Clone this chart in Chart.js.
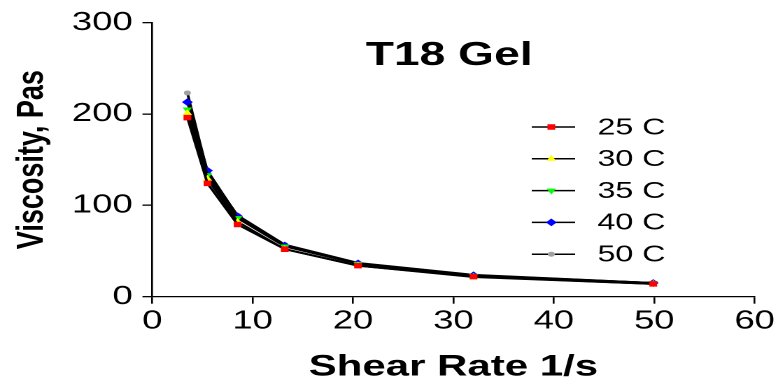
<!DOCTYPE html>
<html>
<head>
<meta charset="utf-8">
<script src="https://cdn.jsdelivr.net/npm/chart.js@4/dist/chart.umd.min.js"></script>
<style>
  html, body { margin: 0; padding: 0; background: #fff; }
</style>
</head>
<body>
<!-- drawn on a narrower canvas and widened by CSS, like the original figure -->
<canvas id="viscosity-chart" width="556" height="385" style="display:block;width:778px;height:385px"></canvas>
<script>
const shearRate = [3.5, 5.5, 8.5, 13.2, 20.5, 32.0, 49.9];
const visc25C = [196, 124, 79, 52, 34, 22, 14];
const visc30C = [201, 129, 82, 52, 34, 21.5, 14];
const visc35C = [205, 133, 86, 55, 36, 23, 15];
const visc40C = [213, 138, 88, 56, 36.5, 23.5, 15];
const visc50C = [223, 136, 89, 57, 37, 24, 15];
const seriesLabels = ["25 C", "30 C", "35 C", "40 C", "50 C"];
const xTickValues = [0, 10, 20, 30, 40, 50, 60];
const yTickValues = [0, 100, 200, 300];

const FONT = "'Liberation Sans', Arial, Helvetica, sans-serif";

const markers = [
  { style: "rect", rot: 0, r: 3.9, color: "#ff0000" },
  { style: "triangle", rot: 0, r: 3.9, color: "#ffff00" },
  { style: "triangle", rot: 180, r: 3.9, color: "#00ff00" },
  { style: "rectRot", rot: 0, r: 3.9, color: "#0000ff" },
  { style: "circle", rot: 0, r: 2.5, color: "#a0a0a0" },
];

function series(values, i) {
  const m = markers[i];
  return {
    label: seriesLabels[i],
    data: values.map((v, k) => ({ x: shearRate[k], y: v })),
    borderColor: "#000",
    borderWidth: 1.9,
    pointStyle: m.style,
    pointRotation: m.rot,
    pointRadius: m.r,
    pointBackgroundColor: m.color,
    pointBorderColor: m.color,
    pointBorderWidth: 0,
    tension: 0,
    fill: false,
  };
}

// title and legend (line + marker) inside the plot area
const overlay = {
  id: "overlay",
  afterDraw(chart) {
    const ctx = chart.ctx;
    ctx.save();
    ctx.fillStyle = "#000";
    ctx.font = "bold 33px " + FONT;
    ctx.textAlign = "center";
    ctx.textBaseline = "middle";
    ctx.fillText("T18 Gel", 321, 56);

    ctx.font = "23px " + FONT;
    ctx.textAlign = "left";
    chart.data.datasets.forEach((ds, i) => {
      const y = 127 + i * 31.8;
      ctx.strokeStyle = "#000";
      ctx.lineWidth = 1.5;
      ctx.beginPath();
      ctx.moveTo(380, y);
      ctx.lineTo(411, y);
      ctx.stroke();
      ctx.fillStyle = ds.pointBackgroundColor;
      Chart.helpers.drawPoint(ctx, {
        pointStyle: ds.pointStyle,
        rotation: ds.pointRotation,
        radius: ds.pointRadius,
        borderWidth: 0,
      }, 394, y);
      ctx.fillStyle = "#000";
      ctx.fillText(ds.label, 427, y + 1);
    });
    ctx.restore();
  },
};

new Chart(document.getElementById("viscosity-chart"), {
  type: "line",
  data: {
    datasets: [visc25C, visc30C, visc35C, visc40C, visc50C].map(series),
  },
  options: {
    responsive: false,
    devicePixelRatio: 2,
    animation: false,
    layout: { padding: { top: 19, right: 16.7, bottom: 0, left: 0 } },
    plugins: {
      legend: { display: false },
      tooltip: { enabled: false },
    },
    scales: {
      x: {
        type: "linear",
        min: 0,
        max: 60,
        afterBuildTicks: (s) => { s.ticks = xTickValues.map((v) => ({ value: v })); },
        afterFit: (s) => { s.height = 88.3; },
        ticks: {
          color: "#000",
          font: { family: FONT, size: 26 },
          padding: 2,
          maxRotation: 0,
        },
        grid: { drawOnChartArea: false, color: "#000", tickLength: 7, lineWidth: 1.3 },
        border: { color: "#000", width: 1.3 },
        title: {
          display: true,
          text: "Shear Rate 1/s",
          color: "#000",
          font: { family: FONT, size: 30, weight: "bold" },
          padding: { top: 4, bottom: 0 },
        },
      },
      y: {
        min: 0,
        max: 300,
        afterBuildTicks: (s) => { s.ticks = yTickValues.map((v) => ({ value: v })); },
        afterFit: (s) => { s.width = 108.8; },
        ticks: {
          color: "#000",
          font: { family: FONT, size: 26 },
          padding: 7,
        },
        grid: { drawOnChartArea: false, color: "#000", tickLength: 7, lineWidth: 1.3 },
        border: { color: "#000", width: 1.3 },
        title: {
          display: true,
          text: "Viscosity, Pas",
          color: "#000",
          font: { family: FONT, size: 27, weight: "bold" },
          padding: { top: 7, bottom: 0 },
        },
      },
    },
  },
  plugins: [overlay],
});
</script>
</body>
</html>
